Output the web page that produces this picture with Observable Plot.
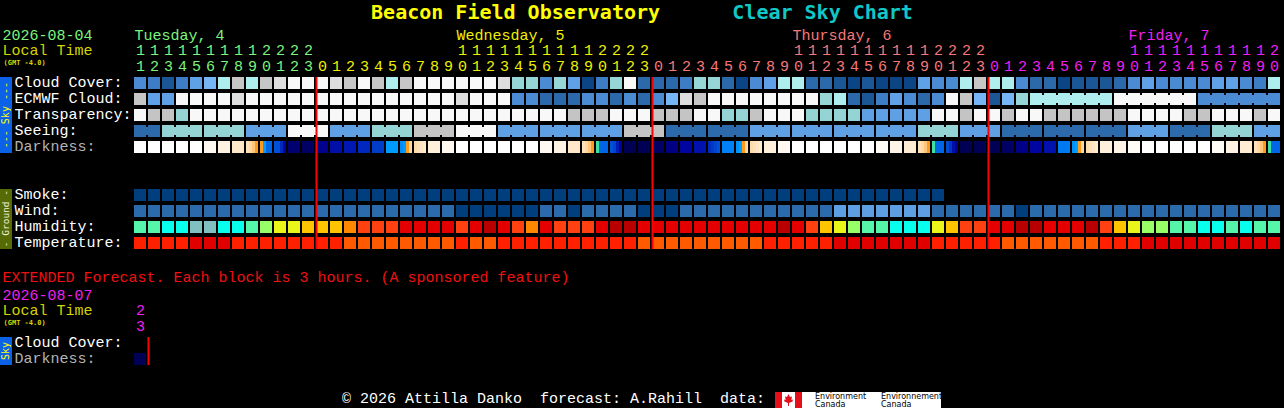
<!DOCTYPE html>
<html><head><meta charset="utf-8">
<script src="https://cdn.jsdelivr.net/npm/d3@7"></script>
<script src="https://cdn.jsdelivr.net/npm/@observablehq/plot@0.6"></script>
<style>
html,body{margin:0;padding:0;background:#000;width:1284px;height:408px;overflow:hidden;}
#wrap{position:relative;width:1284px;height:408px;}
#chart{position:absolute;left:0;top:0;}
#title{position:absolute;left:0;top:0;width:1284px;text-align:center;white-space:pre;font:bold 20px "DejaVu Sans Mono",monospace;line-height:24px;}
.side{position:absolute;left:0;width:12px;display:flex;align-items:center;justify-content:center;overflow:hidden;}
.side span{writing-mode:vertical-rl;transform:rotate(180deg);font-family:"DejaVu Sans Mono",monospace;white-space:pre;line-height:12px;}
#footer{position:absolute;left:342px;top:391px;font:15px "Liberation Mono",monospace;color:#fff;white-space:pre;line-height:17px;}
#logo{position:absolute;left:775px;top:392px;}
</style></head>
<body><div id="wrap"><div id="chart"></div>
<div id="title"><span style="color:#ffff00">Beacon Field Observatory</span>      <span style="color:#10c8c8">Clear Sky Chart</span></div>
<div id="sideSky" class="side" style="background:#0b62e6"><span style="color:#ffff00;font-size:10px">--- Sky ---</span></div>
<div id="sideGround" class="side" style="background:#566a06"><span style="color:#f4f4e0;font-size:9.5px">- Ground -</span></div>
<div id="sideExt" class="side" style="background:#0b62e6"><span style="color:#ffff00;font-size:10px">Sky</span></div>
<div id="footer">© 2026 Attilla Danko  forecast: A.Rahill  data:</div>
<svg id="logo" width="166" height="16" font-family="DejaVu Sans, sans-serif">
<rect x="0" y="0" width="166" height="16" fill="#ffffff"/>
<rect x="0" y="0" width="7" height="16" fill="#e3101c"/>
<rect x="20" y="0" width="7" height="16" fill="#e3101c"/>
<path d="M13.5 2 L15 5 L17 4.5 L16.3 8 L18 7.5 L17.5 9.5 L14 11 L14 14 L13 14 L13 11 L9.5 9.5 L9 7.5 L10.7 8 L10 4.5 L12 5 Z" fill="#e3101c"/>
<text x="40" y="7" font-size="8" fill="#000">Environment</text>
<text x="40" y="15" font-size="8" fill="#000">Canada</text>
<text x="106" y="7" font-size="8" fill="#000">Environnement</text>
<text x="106" y="15" font-size="8" fill="#000">Canada</text>
</svg>
</div>
<script>
// ---------------- data ----------------
const startHour = 11;               // first column: Tuesday 11:00 local
const dateLabel = "2026-08-04";
const extDateLabel = "2026-08-07";
const extHours = [23];
const days = [
  {label: "Tuesday, 4",   color: "#7cf47c"},
  {label: "Wednesday, 5", color: "#f0f000"},
  {label: "Thursday, 6",  color: "#f87878"},
  {label: "Friday, 7",    color: "#f020f0"}
];
// cloud cover level 0 (clear) .. 11 (overcast)
const cloudCover = [7,8,10,8,6,5,3,2,3,2,1,0,0,
  0,1,2,0,2,3,2,0,0,0,0,0,0,1,4,4,7,4,6,11,8,4,0,9,
  9,9,8,4,4,9,11,7,6,3,3,9,9,10,11,10,11,11,11,6,7,7,3,2,
  3,3,7,9,9,11,10,10,10,9,7,6,7,7,7,7,6,6,7,8,3];
const ecmwfHourly = [2,6,6,0,0,0,0,1,0,0,0,0,0,
  0,0,0,0,0,0,0,0,0,0,1,0,0,0,7,7,9,9,9,7,7,9,7,9,
  7,5,1,2,0,0,0,0,0,0,0,0,4,3,9,10,8,6,7,9,7,0,2,5,10,5,4];
const ecmwfSixHourly = [3,0,7];
// transparency: 0 too cloudy, 1 poor, 2 below avg, 3 average
const transparency = [0,1,1,2,0,0,0,0,0,0,0,0,0,
  0,0,0,0,0,0,0,0,0,0,0,0,0,0,0,0,0,0,1,1,1,0,0,0,
  1,1,1,0,0,2,2,1,0,0,0,2,2,2,2,3,3,3,3,3,0,0,1,0,
  0,1,0,0,1,1,1,1,1,1,0,0,0,0,1,1,0,0,0,1,0];
// seeing, one value per 3-hour block
const seeing3h = [4,2,2,3,0,3,2,1,0,3,3,3,1,4,4,3,3,3,3,2,3,4,4,4,3,4,2,3];
// darkness (limiting magnitude); arrays = four sub-samples across a block
const darkness = [-4,-4,-4,-4,-4,-3.6,-3.1,-2.6,[-2.3,-2,-1.6,-1],[-1,1,2,2],[2.5,2.5,3.5,4.5],
  5.5,5.7,4.9,4.2,3.9,3.5,3.0,1.1,[1.4,1.1,-1,-2],[-2.1,-2.3,-2.5,-2.7],-3.0,-3.5,
  -4,-4,-4,-4,-4,-4,
  -3.6,-3.2,-2.6,[-2.3,-2,-1.6,-1],[0,2,2,2],[2.5,2.8,3.8,4.8],6,6,5.7,5.1,4.5,4.1,[3.4,3.1,2.8,2.5],1.6,[1.3,1.0,-1,-2],[-2.1,-2.3,-2.5,-2.7],-3.0,-3.6,
  -4,-4,-4,-4,-4,-4,
  -3.7,-3.3,-2.8,[-2.3,-2,-1.6,-1],[0,2,2,2],[2.6,3.2,4.2,5],6,6,6,5.7,5.0,4.5,4.1,1.7,[1.3,1.0,-1,-2],[-2.1,-2.3,-2.5,-2.7],-3.0,-3.3,-3.7,
  -4,-4,-4,-4,-4,
  -3.7,-3.2,-2.8,[-2.3,-2,-1.6,-1],[0,2,2,2]];
const extDarkness = [6];
// smoke µg/m3
const smoke = [0,0,0,0,0,0,0,0,0,0,0,0,0,0,0,0,0,0,0,0,0,0,0,0,0,0,0,0,0,
  0,0,0,0,0,0,0,0,0,0,0,0,0,0,0,0,0,0,0,0,0,0,0,0,0,0,0,0,0];
// wind mph
const windMph = [8,8,8,8,8,8,8,8,8,8,8,8,8,8,8,8,8,8,8,8,8,8,8,
  3,3,3,3,3,3,8,8,3,8,8,8,8,3,3,3,
  8,8,8,8,8,8,8,8,8,8,8,14,14,14,14,14,14,14,8,8,8,8,8,8,3,
  8,8,8,8,8,8,8,8,8,8,8,8,8,8,8,8,8,8];
// humidity %
const humidity = [57,57,52,52,47,47,52,52,57,62,67,67,72,72,
  72,77,82,82,82,87,87,87,87,82,87,92,87,82,77,87,82,82,82,87,92,92,87,
  87,87,87,87,87,87,87,87,87,92,87,82,72,67,62,57,57,52,52,52,67,72,82,
  82,87,87,92,92,87,87,87,92,82,72,67,62,62,57,57,52,52,57,52,57,57];
// temperature °F
const temperatureF = [81,81,81,81,90,90,90,81,81,81,81,81,81,81,81,
  72,72,72,72,72,72,72,72,81,72,72,81,81,81,81,81,81,81,81,81,81,
  72,72,72,72,72,72,72,72,72,81,81,81,81,81,90,90,90,90,90,90,90,
  81,81,81,81,81,72,72,72,72,72,72,72,81,81,81,
  90,90,90,90,90,90,90,90,90,90];

// ---------------- colour scales (Plot) ----------------
const cloudScale = Plot.scale({color: {type: "ordinal", domain: d3.range(12),
  range: ["#f8f8f8","#dedede","#c6c6c6","#aeeeee","#96d6d6","#77b6f6","#60a0e6","#4b8bd3","#3c7dc5","#2b69aa","#1b5796","#0c4585"]}});
const transScale = Plot.scale({color: {type: "ordinal", domain: [0,1,2,3], range: ["#f8f8f8","#c4c4c4","#94d4d4","#5f9fe4"]}});
const seeingScale = Plot.scale({color: {type: "ordinal", domain: [0,1,2,3,4], range: ["#f8f8f8","#c4c4c4","#94d4d4","#5f9fe4","#2c6aac"]}});
const darkScale = Plot.scale({color: {type: "linear", interpolate: "rgb",
  domain: [-4,-3.5,-3,-2.5,-2,-1.5,-1,0,0.5,1,1.5,2,2.5,3,3.5,4,4.5,5,5.5,6],
  range: ["#ffffff","#fff8ee","#fff0dc","#ffe6c4","#ffd8a4","#ffc070","#ff9c20","#40e0a0","#00c0ff","#00a0ff","#0088f8","#0066e8","#0050d8","#003cca","#0028be","#0014b0","#0004a0","#000088","#000070","#000054"]}});
const smokeScale = Plot.scale({color: {type: "threshold", domain: [2], range: ["#003e7e","#2b6aab"]}});
const windScale = Plot.scale({color: {type: "threshold", domain: [6,12], range: ["#003e7e","#2b6aab","#5e9fe4"]}});
const humScale = Plot.scale({color: {type: "threshold", domain: [50,55,60,65,70,75,80,85,90],
  range: ["#80c0c0","#08ffee","#55f5aa","#99ff66","#eaf51a","#ffc400","#ff8800","#ff4010","#e40000","#b80000"]}});
const tempScale = Plot.scale({color: {type: "threshold", domain: [77,86], range: ["#ff5a00","#ff2000","#e00000"]}});

// ---------------- layout (rows in 16px units, columns in 14px units) ----------------
const CW = 12/14, RH = 0.75;
const ROW = {cloud: 0, ecmwf: 1, trans: 2, seeing: 3, dark: 4, smoke: 7, wind: 8, hum: 9, temp: 10};
const EXT = 16.25;
const HDR = {day: -2.63, tens: -1.68, local: -1.7, gmt: -0.9, units: -0.72};

const cells = [];
const add = (c0, c1, r0, r1, fill) => cells.push({c0, c1, r0, r1, fill});
const simple = (arr, row, sc) => arr.forEach((v, i) => add(i, i + CW, row, row + RH, sc.apply(v)));
simple(cloudCover, ROW.cloud, cloudScale);
simple(transparency, ROW.trans, transScale);
simple(smoke, ROW.smoke, smokeScale);
simple(windMph, ROW.wind, windScale);
simple(humidity, ROW.hum, humScale);
simple(temperatureF, ROW.temp, tempScale);
const N = cloudCover.length;
// ECMWF: hourly then 6-hour joined blocks
ecmwfHourly.forEach((v, i) => add(i, i + CW, ROW.ecmwf, ROW.ecmwf + RH, cloudScale.apply(v)));
for (let i = ecmwfHourly.length; i < N; i++) {
  const b = Math.floor((i - ecmwfHourly.length) / 6);
  const f = cloudScale.apply(ecmwfSixHourly[b]);
  add(i, i + CW, ROW.ecmwf, ROW.ecmwf + RH, f);
  if (i + 1 < N && Math.floor((i + 1 - ecmwfHourly.length) / 6) === b) add(i + CW, i + 1, ROW.ecmwf + 2/16, ROW.ecmwf + 10/16, f);
}
// Seeing: 3-hour joined blocks
for (let i = 0; i < N; i++) {
  const b = Math.floor((i + 1) / 3);
  const f = seeingScale.apply(seeing3h[b]);
  add(i, i + CW, ROW.seeing, ROW.seeing + RH, f);
  if (i + 1 < N && Math.floor((i + 2) / 3) === b) add(i + CW, i + 1, ROW.seeing + 2/16, ROW.seeing + 10/16, f);
}
// Darkness with sub-samples
const darkCells = (arr, row) => arr.forEach((v, i) => {
  if (Array.isArray(v)) v.forEach((s, k) => add(i + k * 3/14, i + (k + 1) * 3/14, row, row + RH, darkScale.apply(s)));
  else add(i, i + CW, row, row + RH, darkScale.apply(v));
});
darkCells(darkness, ROW.dark);
darkCells(extDarkness, EXT + 1);

// header labels
const cols = d3.range(N).map(i => {
  const abs = startHour + i, h = abs % 24, d = Math.floor(abs / 24);
  return {i, h, color: days[d].color};
});
const tens = cols.filter(c => c.h >= 10);
const dayStarts = days.map((d, k) => {
  const c = k === 0 ? cols[0] : cols.find(c => Math.floor((startHour + c.i) / 24) === k && c.h === 10);
  return {i: c.i, label: d.label, color: d.color};
});
const midnights = cols.filter(c => c.h === 0).map(c => c.i);
const extCols = extHours.map((h, i) => ({i, h}));
const extColor = days[3].color;

const rowLabels = [
  {t: "Cloud Cover:", r: ROW.cloud}, {t: "ECMWF Cloud:", r: ROW.ecmwf}, {t: "Transparency:", r: ROW.trans},
  {t: "Seeing:", r: ROW.seeing}, {t: "Darkness:", r: ROW.dark, grey: true},
  {t: "Smoke:", r: ROW.smoke}, {t: "Wind:", r: ROW.wind}, {t: "Humidity:", r: ROW.hum}, {t: "Temperature:", r: ROW.temp},
  {t: "Cloud Cover:", r: EXT}, {t: "Darkness:", r: EXT + 1, grey: true}
];
const FF = "Liberation Mono, monospace";
const leftText = (items) => Plot.text(items, {y: "y", text: "t", fill: "c", frameAnchor: "left", dx: 2, textAnchor: "start", fontSize: 15, fontFamily: FF});

const chart = Plot.plot({
  width: 1284, height: 408, margin: 0,
  x: {domain: [0, N], range: [134, 134 + 14 * N], axis: null},
  y: {domain: [0, 11], range: [77, 253], axis: null},
  color: {type: "identity"},
  style: {background: "transparent", color: "white", fontFamily: FF},
  marks: [
    Plot.rect(cells, {x1: "c0", x2: "c1", y1: "r0", y2: "r1", fill: "fill"}),
    Plot.ruleX(midnights, {x: d => d, y1: 0, y2: ROW.temp + RH, stroke: "#ff0000", strokeWidth: 2}),
    Plot.ruleX([1], {x: d => d, y1: EXT, y2: EXT + 1 + RH, stroke: "#ff0000", strokeWidth: 2}),
    Plot.text(rowLabels, {y: d => d.r + 0.31, text: "t", fill: d => d.grey ? "#b4b4b4" : "#ffffff", frameAnchor: "left", dx: 14, textAnchor: "start", fontSize: 15, fontFamily: FF}),
    leftText([
      {t: dateLabel, y: HDR.day, c: days[0].color},
      {t: "Local Time", y: HDR.local, c: "#d4d400"},
      {t: extDateLabel, y: EXT + HDR.day, c: extColor},
      {t: "Local Time", y: EXT + HDR.local, c: "#d4d400"},
      {t: "EXTENDED Forecast. Each block is 3 hours. (A sponsored feature)", y: 12.5, c: "#f01010"}
    ]),
    Plot.text([{y: HDR.gmt}, {y: EXT + HDR.gmt}], {y: "y", text: () => "(GMT -4.0)", fill: "#d4d400", frameAnchor: "left", dx: 3, textAnchor: "start", fontSize: 7, fontWeight: "bold", fontFamily: "DejaVu Sans Mono, monospace"}),
    Plot.text(dayStarts, {x: "i", y: () => HDR.day, text: "label", fill: "color", textAnchor: "start", fontSize: 15, fontFamily: FF}),
    Plot.text(tens, {x: d => d.i + 6/14, y: () => HDR.tens, text: d => String(Math.floor(d.h / 10)), fill: "color", fontSize: 15, fontFamily: FF}),
    Plot.text(cols, {x: d => d.i + 6/14, y: () => HDR.units, text: d => String(d.h % 10), fill: "color", fontSize: 15, fontFamily: FF}),
    Plot.text(extCols, {x: d => d.i + 6/14, y: () => EXT + HDR.tens, text: d => String(Math.floor(d.h / 10)), fill: extColor, fontSize: 15, fontFamily: FF}),
    Plot.text(extCols, {x: d => d.i + 6/14, y: () => EXT + HDR.units, text: d => String(d.h % 10), fill: extColor, fontSize: 15, fontFamily: FF})
  ]
});
document.getElementById("chart").appendChild(chart);

// place side bars from the plot's y scale
const ys = chart.scale("y");
const place = (id, r0, r1) => {
  const el = document.getElementById(id);
  const a = ys.apply(r0), b = ys.apply(r1);
  el.style.top = a + "px"; el.style.height = (b - a) + "px";
};
place("sideSky", ROW.cloud, ROW.dark + RH);
place("sideGround", ROW.smoke, ROW.temp + RH);
place("sideExt", EXT, EXT + 1 + RH);
</script>
</body></html>
